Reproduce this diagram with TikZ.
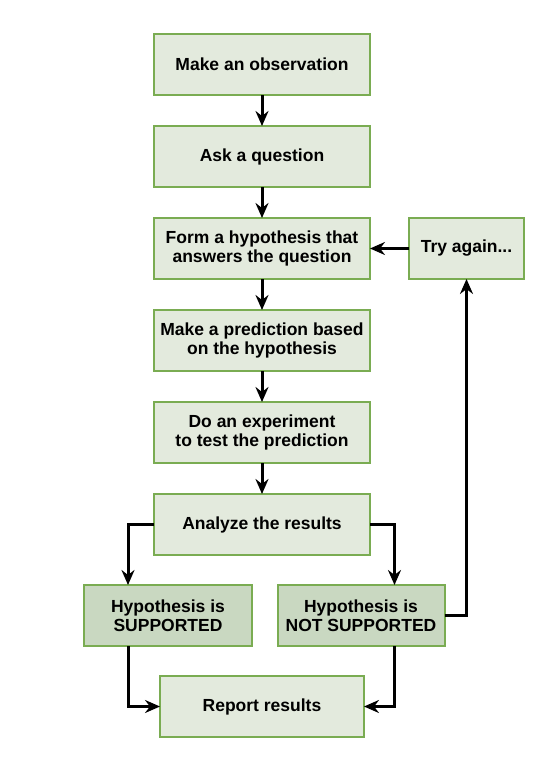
\documentclass[tikz,border=0pt]{standalone}
\usepackage{fontspec}
\setmainfont{Liberation Sans}
\usetikzlibrary{arrows.meta,positioning}
\definecolor{edgegreen}{RGB}{122,172,82}
\definecolor{palefill}{RGB}{227,234,221}
\definecolor{sagefill}{RGB}{201,216,193}

\begin{document}
\begin{tikzpicture}[x=1pt,y=1pt,node distance=31pt,>={Stealth[length=15pt,width=13pt,inset=5pt]},
 box/.style={draw=edgegreen,line width=2pt,fill=palefill,minimum width=216pt,minimum height=61pt,
  align=center,font=\fontsize{17.5}{19.5}\selectfont\bfseries,inner sep=2pt,outer sep=0pt},
 arr/.style={->,line width=3pt}]
\useasboundingbox (0,0) rectangle (554,-772);
\node[box] (obs) at (262,-64.5) {Make an observation};
\node[box,below=of obs] (ask) {Ask a question};
\node[box,below=of ask] (form) {Form a hypothesis that\\answers the question};
\node[box,right=39pt of form,minimum width=115pt] (try) {Try again...};
\node[box,below=of form] (pred) {Make a prediction based\\on the hypothesis};
\node[box,below=of pred] (exp) {Do an experiment\\to test the prediction};
\node[box,below=of exp] (ana) {Analyze the results};
\node[box,fill=sagefill,minimum width=168pt,below=30pt of ana,xshift=-94pt] (sup) {Hypothesis is\\SUPPORTED};
\node[box,fill=sagefill,minimum width=167pt,below=30pt of ana,xshift=99pt] (nsup) {Hypothesis is\\NOT SUPPORTED};
\coordinate (mid) at (ana |- sup.south);
\node[box,below=30pt of mid,minimum width=204pt] (rep) {Report results};
\draw[arr] (obs)--(ask); \draw[arr] (ask)--(form); \draw[arr] (form)--(pred);
\draw[arr] (pred)--(exp); \draw[arr] (exp)--(ana);
\draw[arr] (try)--(form);
\draw[arr] (ana.west) -| ([xshift=-40pt]sup.north);
\draw[arr] (ana.east) -| ([xshift=33.5pt]nsup.north);
\draw[arr] (nsup.east) -| (try.south);
\draw[arr] ([xshift=-40pt]sup.south) |- (rep.west);
\draw[arr] ([xshift=33.5pt]nsup.south) |- (rep.east);
\end{tikzpicture}
\end{document}
